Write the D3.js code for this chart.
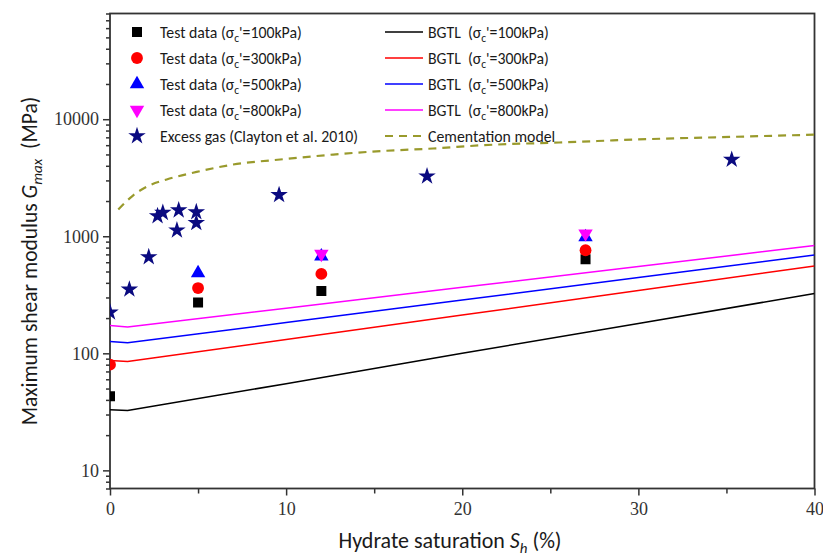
<!DOCTYPE html>
<html>
<head>
<meta charset="utf-8">
<script src="https://cdn.jsdelivr.net/npm/d3@7"></script>
<style>
  body { margin: 0; background: #fff; }
  .lbl { font-family: Carlito, "Open Sans", sans-serif; fill: #1a1a1a; white-space: pre; }
  .tick text { font-family: "Liberation Serif", "DejaVu Serif", serif; fill: #333; }
</style>
</head>
<body>
<svg id="chart" width="823" height="558"></svg>
<script>
// ---- data ----
// Test data (hydrate saturation %, Gmax MPa) at four confining stresses
const test100Sh = [0, 5, 12, 27];
const test100G  = [43, 272, 341, 636];
const test300Sh = [0, 5, 12, 27];
const test300G  = [80, 361, 477, 759];
const test500Sh = [5, 12, 27];
const test500G  = [485, 675, 986];
const test800Sh = [12, 27];
const test800G  = [708, 1055];

// Excess gas data (Clayton et al. 2010)
const gasSh = [0, 1.1, 2.2, 2.7, 3.0, 3.8, 3.9, 4.9, 4.9, 9.6, 18.0, 35.3];
const gasG  = [224, 352, 665, 1490, 1590, 1125, 1670, 1610, 1300, 2255, 3258, 4520];

// BGTL model curves
const bgtlSh   = [0, 1, 10, 20, 30, 40];
const bgtl100G = [33, 32.5, 55, 100, 180, 324];
const bgtl300G = [87, 85, 131, 212, 344, 557];
const bgtl500G = [126, 123, 183, 285, 444, 692];
const bgtl800G = [173, 168, 243, 366, 552, 832];

// Cementation model curve
const cemSh = [0.47, 1.32, 2.27, 3.22, 4.92, 6.99, 9.83, 12.67, 15.5, 18.34, 21.2, 25.5, 30.45, 35.2, 40];
const cemG  = [1690, 2240, 2730, 3055, 3545, 4100, 4550, 4990, 5355, 5620, 6000, 6325, 6750, 7060, 7380];

// Axis ticks
const xMajorTicks = [0, 10, 20, 30, 40];
const xMinorTicks = [5, 15, 25, 35];
const yMajorTicks = [10, 100, 1000, 10000];

// ---- layout ----
const W = 823, H = 558;
const M = { left: 110, top: 13.5, right: 8.5, bottom: 69.5 };
const svg = d3.select("#chart");

const x = d3.scaleLinear().domain([0, 40]).range([M.left, W - M.right]);
const y = d3.scaleLog().domain([7, 80000]).range([H - M.bottom, M.top]);

const yMinorTicks = [];
[1, 10, 100, 1000, 10000].forEach(d => {
  for (let k = 2; k <= 9; k++) {
    const v = d * k;
    if (v >= 7 && v <= 80000) yMinorTicks.push(v);
  }
});

svg.append("clipPath").attr("id", "plotClip")
  .append("rect")
  .attr("x", M.left).attr("y", M.top)
  .attr("width", W - M.left - M.right).attr("height", H - M.top - M.bottom);

// ---- axes ----
const axisColor = "#333";
const gxMinor = svg.append("g").attr("transform", `translate(0,${H - M.bottom})`)
  .call(d3.axisBottom(x).tickValues(xMinorTicks).tickSize(5).tickFormat(""));
const gx = svg.append("g").attr("transform", `translate(0,${H - M.bottom})`)
  .call(d3.axisBottom(x).tickValues(xMajorTicks).tickSize(7).tickPadding(7).tickFormat(d3.format("d")));
const gyMinor = svg.append("g").attr("transform", `translate(${M.left},0)`)
  .call(d3.axisLeft(y).tickValues(yMinorTicks).tickSize(4).tickFormat(""));
const gy = svg.append("g").attr("transform", `translate(${M.left},0)`)
  .call(d3.axisLeft(y).tickValues(yMajorTicks).tickSize(7).tickPadding(4).tickFormat(d3.format("d")));

[gxMinor, gx, gyMinor, gy].forEach(g => {
  g.select(".domain").remove();
  g.selectAll(".tick line").attr("stroke", axisColor).attr("stroke-width", 1.5);
  g.selectAll(".tick text").style("font-size", "18px");
});

// frame
svg.append("rect")
  .attr("x", M.left).attr("y", M.top)
  .attr("width", W - M.left - M.right).attr("height", H - M.top - M.bottom)
  .attr("fill", "none").attr("stroke", axisColor).attr("stroke-width", 1.8);

// ---- plot contents ----
const plot = svg.append("g").attr("clip-path", "url(#plotClip)");

const line = d3.line().x(d => x(d[0])).y(d => y(d[1]));
const cemLine = d3.line().x(d => x(d[0])).y(d => y(d[1])).curve(d3.curveMonotoneX);

const bgtl = [
  { g: bgtl100G, color: "#000000" },
  { g: bgtl300G, color: "#ff0000" },
  { g: bgtl500G, color: "#0000ff" },
  { g: bgtl800G, color: "#ff00ff" }
];
bgtl.forEach(s => {
  plot.append("path")
    .datum(d3.zip(bgtlSh, s.g))
    .attr("d", line)
    .attr("fill", "none").attr("stroke", s.color).attr("stroke-width", 1.5);
});

const cemColor = "#999a2c";
plot.append("path")
  .datum(d3.zip(cemSh, cemG))
  .attr("d", cemLine)
  .attr("fill", "none").attr("stroke", cemColor)
  .attr("stroke-width", 2.2).attr("stroke-dasharray", "8,6");

const downTri = { draw(ctx, size) {
  const s = Math.sqrt(size / (Math.sqrt(3) / 4));
  const h = s * Math.sqrt(3) / 2;
  ctx.moveTo(-s / 2, -h / 3);
  ctx.lineTo(s / 2, -h / 3);
  ctx.lineTo(0, 2 * h / 3);
  ctx.closePath();
}};

const markerSets = [
  { sh: test100Sh, g: test100G, type: d3.symbolSquare, size: 100, color: "#000000" },
  { sh: test300Sh, g: test300G, type: d3.symbolCircle, size: 110, color: "#ff0000" },
  { sh: test500Sh, g: test500G, type: d3.symbolTriangle, size: 90, color: "#0000ff" },
  { sh: test800Sh, g: test800G, type: downTri, size: 90, color: "#ff00ff" },
  { sh: gasSh, g: gasG, type: d3.symbolStar, size: 95, color: "#0a0a80" }
];
markerSets.forEach(m => {
  plot.append("g").selectAll("path")
    .data(d3.zip(m.sh, m.g))
    .join("path")
    .attr("transform", d => `translate(${x(d[0])},${y(d[1])})`)
    .attr("d", d3.symbol().type(m.type).size(m.size))
    .attr("fill", m.color);
});

// ---- legend ----
const legendFont = 15.8;
function sigmaLabel(sel, prefix, stress) {
  sel.append("tspan").text(prefix + "(σ");
  sel.append("tspan").attr("dy", 4).style("font-size", "11.5px").text("c");
  sel.append("tspan").attr("dy", -4).text("'=" + stress + "kPa)");
}

const leftRows = [
  { m: markerSets[0], stress: 100 },
  { m: markerSets[1], stress: 300 },
  { m: markerSets[2], stress: 500 },
  { m: markerSets[3], stress: 800 },
  { m: markerSets[4], text: "Excess gas (Clayton et al. 2010)" }
];
const rowY = i => 32 + 26 * i;
leftRows.forEach((r, i) => {
  svg.append("path")
    .attr("transform", `translate(137,${rowY(i)})`)
    .attr("d", d3.symbol().type(r.m.type).size(r.m.size))
    .attr("fill", r.m.color);
  const t = svg.append("text").attr("class", "lbl")
    .attr("x", 160).attr("y", rowY(i)).attr("dy", "0.35em")
    .style("font-size", legendFont + "px");
  if (r.text) t.text(r.text); else sigmaLabel(t, "Test data ", r.stress);
});

const stressList = [100, 300, 500, 800];
bgtl.forEach((s, i) => {
  svg.append("line")
    .attr("x1", 385).attr("x2", 423).attr("y1", rowY(i)).attr("y2", rowY(i))
    .attr("stroke", s.color).attr("stroke-width", 1.5);
  const t = svg.append("text").attr("class", "lbl")
    .attr("x", 428).attr("y", rowY(i)).attr("dy", "0.35em")
    .style("font-size", legendFont + "px");
  sigmaLabel(t, "BGTL  ", stressList[i]);
});
svg.append("line")
  .attr("x1", 385).attr("x2", 423).attr("y1", rowY(4)).attr("y2", rowY(4))
  .attr("stroke", cemColor).attr("stroke-width", 2.2).attr("stroke-dasharray", "8,6");
svg.append("text").attr("class", "lbl")
  .attr("x", 428).attr("y", rowY(4)).attr("dy", "0.35em")
  .style("font-size", legendFont + "px").text("Cementation model");

// ---- axis titles ----
const xt = svg.append("text").attr("class", "lbl")
  .attr("x", 450).attr("y", 548)
  .attr("text-anchor", "middle").style("font-size", "22px");
xt.append("tspan").text("Hydrate saturation ");
xt.append("tspan").style("font-style", "italic").text("S");
xt.append("tspan").attr("dy", 5).style("font-style", "italic").style("font-size", "15px").text("h");
xt.append("tspan").attr("dy", -5).text(" (%)");

const yt = svg.append("text").attr("class", "lbl")
  .attr("transform", `translate(37,261) rotate(-90)`)
  .attr("text-anchor", "middle").style("font-size", "21.5px");
yt.append("tspan").text("Maximum shear modulus ");
yt.append("tspan").style("font-style", "italic").text("G");
yt.append("tspan").attr("dy", 5).style("font-style", "italic").style("font-size", "15px").text("max");
yt.append("tspan").attr("dy", -5).text("  (MPa)");
</script>
</body>
</html>
